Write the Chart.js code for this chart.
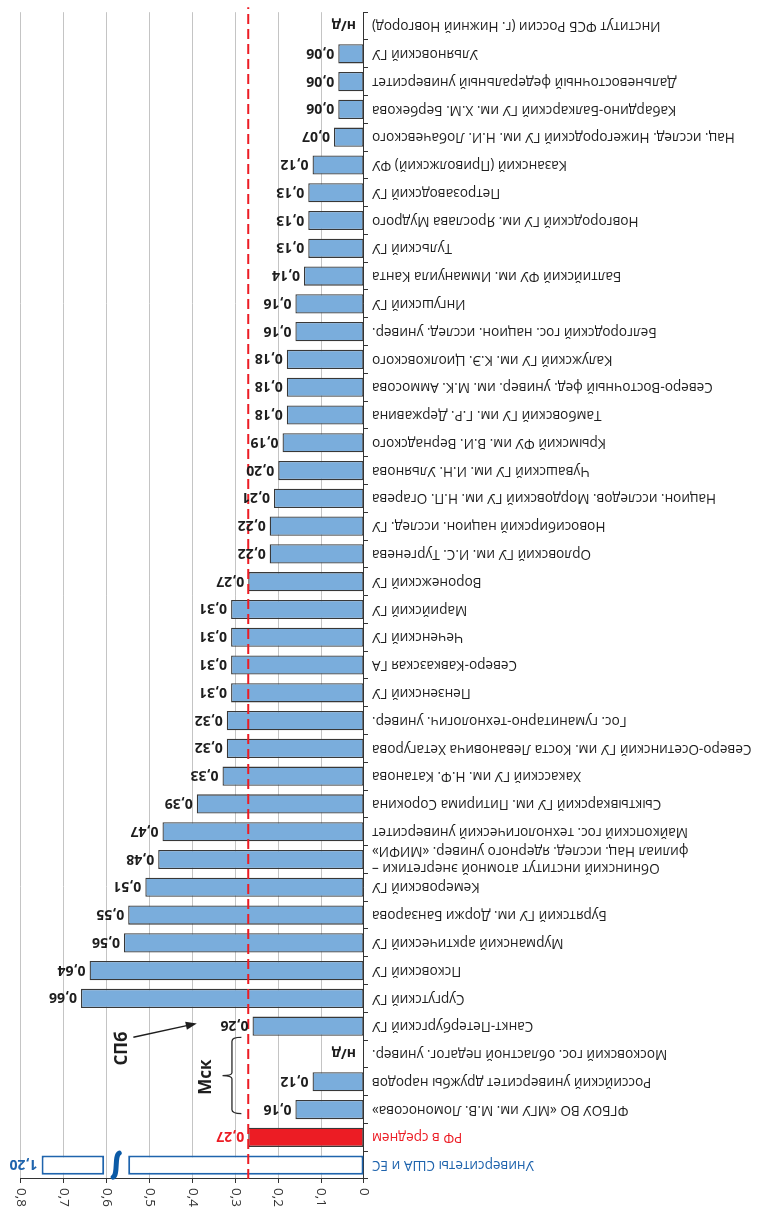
<!DOCTYPE html>
<html lang="ru">
<head>
<meta charset="utf-8">
<title>Показатель вузов</title>
<script src="https://cdn.jsdelivr.net/npm/chart.js@4/dist/chart.umd.min.js"></script>
<style>
  html, body { margin: 0; padding: 0; background: #fff; }
  #wrap { width: 760px; height: 1216px; transform: rotate(180deg); }
</style>
</head>
<body>
<div id="wrap"><canvas id="chartCanvas" width="760" height="1216"></canvas></div>
<script>
const universities = [
  'Университеты США и ЕС',
  'РФ в среднем',
  'ФГБОУ ВО «МГУ им. М.В. Ломоносова»',
  'Российский университет дружбы народов',
  'Московский гос. областной педагог. универ.',
  'Санкт-Петербургский ГУ',
  'Сургутский ГУ',
  'Псковский ГУ',
  'Мурманский арктический ГУ',
  'Бурятский ГУ им. Доржи Банзарова',
  'Кемеровский ГУ',
  ['Обнинский институт атомной энергетики –', 'филиал Нац. исслед. ядерного универ. «МИФИ»'],
  'Майкопский гос. технологический университет',
  'Сыктывкарский ГУ им. Питирима Сорокина',
  'Хакасский ГУ им. Н.Ф. Катанова',
  'Северо-Осетинский ГУ им. Коста Левановича Хетагурова',
  'Гос. гуманитарно-технологич. универ.',
  'Пензенский ГУ',
  'Северо-Кавказская ГА',
  'Чеченский ГУ',
  'Марийский ГУ',
  'Воронежский ГУ',
  'Орловский ГУ им. И.С. Тургенева',
  'Новосибирский национ. исслед. ГУ',
  'Национ. исследов. Мордовский ГУ им. Н.П. Огарева',
  'Чувашский ГУ им. И.Н. Ульянова',
  'Крымский ФУ им. В.И. Вернадского',
  'Тамбовский ГУ им. Г.Р. Державина',
  'Северо-Восточный фед. универ. им. М.К. Аммосова',
  'Калужский ГУ им. К.Э. Циолковского',
  'Белгородский гос. национ. исслед. универ.',
  'Ингушский ГУ',
  'Балтийский ФУ им. Иммануила Канта',
  'Тульский ГУ',
  'Новгородский ГУ им. Ярослава Мудрого',
  'Петрозаводский ГУ',
  'Казанский (Приволжский) ФУ',
  'Нац. исслед. Нижегородский ГУ им. Н.И. Лобачевского',
  'Кабардино-Балкарский ГУ им. Х.М. Бербекова',
  'Дальневосточный федеральный университет',
  'Ульяновский ГУ',
  'Институт ФСБ России (г. Нижний Новгород)'
];

// null = нет данных (н/д)
const scores = [
  1.20, 0.27, 0.16, 0.12, null, 0.26, 0.66, 0.64, 0.56, 0.55,
  0.51, 0.48, 0.47, 0.39, 0.33, 0.32, 0.32, 0.31, 0.31, 0.31,
  0.31, 0.27, 0.22, 0.22, 0.21, 0.20, 0.19, 0.18, 0.18, 0.18,
  0.16, 0.16, 0.14, 0.13, 0.13, 0.13, 0.12, 0.07, 0.06, 0.06,
  0.06, null
];

const averageRF = 0.27;
const axisMax = 0.8;
const xTickValues = [0, 0.1, 0.2, 0.3, 0.4, 0.5, 0.6, 0.7, 0.8];
const xTickLabels = ['0', '0,1', '0,2', '0,3', '0,4', '0,5', '0,6', '0,7', '0,8'];

// values above the axis are drawn as a cut bar
const breakFrom = 0.55, breakTo = 0.606, breakEnd = 0.752;

const FONT = "'Open Sans', 'Noto Sans', sans-serif";
const BLUE = '#1f64ad';
const RED = '#ec1c24';

const headData = scores.map(v => v === null ? null : (v > axisMax ? breakFrom : v));
const tailData = scores.map(v => v !== null && v > axisMax ? [breakTo, breakEnd] : null);

const fillFor = i => i === 0 ? '#ffffff' : (i === 1 ? RED : '#7aaddc');
const lineFor = i => i === 0 ? BLUE : '#383838';
const textFor = i => i === 0 ? BLUE : (i === 1 ? RED : '#1e1e1e');

const overlay = {
  id: 'overlay',
  afterDatasetsDraw(chart) {
    const { ctx, chartArea, scales: { x, y } } = chart;
    ctx.save();

    // value axis labels, turned on their side
    ctx.fillStyle = '#333';
    ctx.font = '13.5px ' + FONT;
    ctx.textAlign = 'left';
    ctx.textBaseline = 'middle';
    xTickValues.forEach((v, i) => {
      ctx.save();
      ctx.translate(x.getPixelForValue(v), chartArea.top - 9);
      ctx.rotate(-Math.PI / 2);
      ctx.fillText(xTickLabels[i], 0, 0);
      ctx.restore();
    });

    // break mark between the two parts of the cut bar
    scores.forEach((v, i) => {
      if (v === null || v <= axisMax) return;
      const cx = x.getPixelForValue((breakFrom + breakTo) / 2);
      const cy = y.getPixelForValue(i);
      ctx.strokeStyle = '#0b5aa6';
      ctx.lineWidth = 5;
      ctx.lineCap = 'round';
      ctx.beginPath();
      ctx.moveTo(cx + 3, cy - 12);
      ctx.bezierCurveTo(cx - 2, cy - 9, cx + 2, cy + 9, cx - 3, cy + 12);
      ctx.stroke();
    });

    // average line for RF
    const ax = x.getPixelForValue(averageRF);
    ctx.strokeStyle = RED;
    ctx.lineWidth = 2;
    ctx.lineCap = 'butt';
    ctx.setLineDash([10, 5]);
    ctx.beginPath();
    ctx.moveTo(ax, chartArea.top);
    ctx.lineTo(ax, chartArea.bottom + 5);
    ctx.stroke();
    ctx.setLineDash([]);

    // value labels
    ctx.font = 'bold 14px ' + FONT;
    ctx.textAlign = 'left';
    ctx.textBaseline = 'middle';
    scores.forEach((v, i) => {
      const end = v === null ? 0 : (v > axisMax ? breakEnd : v);
      const px = x.getPixelForValue(end) + (v === null ? 8 : 4);
      const text = v === null ? 'н/д' : v.toFixed(2).replace('.', ',');
      ctx.fillStyle = textFor(i);
      ctx.fillText(text, px, y.getPixelForValue(i) + 1);
    });

    // Moscow bracket
    const bx = x.getPixelForValue(0.308);
    const hx = x.getPixelForValue(0.286);
    const nx = x.getPixelForValue(0.33);
    const y1 = y.getPixelForValue(1.85);
    const y2 = y.getPixelForValue(4.6);
    const ym = y.getPixelForValue(3.22);
    ctx.strokeStyle = '#2a2a2a';
    ctx.lineWidth = 1.3;
    ctx.beginPath();
    ctx.moveTo(hx, y1);
    ctx.quadraticCurveTo(bx, y1, bx, y1 + 4);
    ctx.lineTo(bx, ym - 3);
    ctx.quadraticCurveTo(bx, ym, nx, ym);
    ctx.quadraticCurveTo(bx, ym, bx, ym + 3);
    ctx.lineTo(bx, y2 - 4);
    ctx.quadraticCurveTo(bx, y2, hx, y2);
    ctx.stroke();

    ctx.fillStyle = '#1e1e1e';
    ctx.font = 'bold 17px ' + FONT;
    ctx.textAlign = 'center';
    ctx.textBaseline = 'middle';
    const vtext = (txt, vx, vy) => {
      ctx.save();
      ctx.translate(x.getPixelForValue(vx), y.getPixelForValue(vy));
      ctx.rotate(Math.PI / 2);
      ctx.fillText(txt, 0, 0);
      ctx.restore();
    };
    vtext('Мск', 0.367, 3.17);
    vtext('СПб', 0.565, 4.2);

    // arrow to Saint Petersburg
    const tx = x.getPixelForValue(0.538), ty = y.getPixelForValue(4.6);
    const sx = x.getPixelForValue(0.39), sy = y.getPixelForValue(5.1);
    const ang = Math.atan2(sy - ty, sx - tx);
    ctx.strokeStyle = '#1e1e1e';
    ctx.lineWidth = 1.5;
    ctx.beginPath();
    ctx.moveTo(tx, ty);
    ctx.lineTo(sx - 8 * Math.cos(ang), sy - 8 * Math.sin(ang));
    ctx.stroke();
    ctx.beginPath();
    ctx.moveTo(sx, sy);
    ctx.lineTo(sx - 11 * Math.cos(ang) + 4 * Math.sin(ang), sy - 11 * Math.sin(ang) - 4 * Math.cos(ang));
    ctx.lineTo(sx - 11 * Math.cos(ang) - 4 * Math.sin(ang), sy - 11 * Math.sin(ang) + 4 * Math.cos(ang));
    ctx.closePath();
    ctx.fill();

    ctx.restore();
  }
};

const chartContainer = document.getElementById('chartCanvas');

const myChart = new Chart(chartContainer, {
  type: 'bar',
  data: {
    labels: universities,
    datasets: [{
      data: headData,
      backgroundColor: universities.map((_, i) => fillFor(i)),
      borderColor: universities.map((_, i) => lineFor(i)),
      borderWidth: universities.map((_, i) => i === 0 ? 2 : 1.3),
      borderSkipped: false,
      grouped: false,
      barPercentage: 0.69,
      categoryPercentage: 1
    }, {
      data: tailData,
      backgroundColor: '#ffffff',
      borderColor: BLUE,
      borderWidth: 2,
      borderSkipped: false,
      grouped: false,
      barPercentage: 0.69,
      categoryPercentage: 1
    }]
  },
  options: {
    indexAxis: 'y',
    responsive: false,
    animation: false,
    layout: { padding: { top: 0, right: 21, bottom: 12, left: 0 } },
    plugins: {
      legend: { display: false },
      tooltip: { enabled: false }
    },
    scales: {
      x: {
        position: 'top',
        min: 0,
        max: axisMax,
        afterFit: s => { s.height = 37; },
        ticks: { stepSize: 0.1, display: false },
        grid: { color: '#c4c4c4', lineWidth: 1, tickColor: '#333', tickLength: 4 },
        border: { color: '#333', width: 1 }
      },
      y: {
        afterFit: s => { s.width = 396; },
        ticks: {
          autoSkip: false,
          padding: 4,
          color: c => textFor(c.index),
          font: { family: FONT, size: 13.6 }
        },
        grid: { drawOnChartArea: false, offset: true, tickLength: 4, tickColor: '#333' },
        border: { color: '#333', width: 1 }
      }
    }
  },
  plugins: [overlay]
});
</script>
</body>
</html>
